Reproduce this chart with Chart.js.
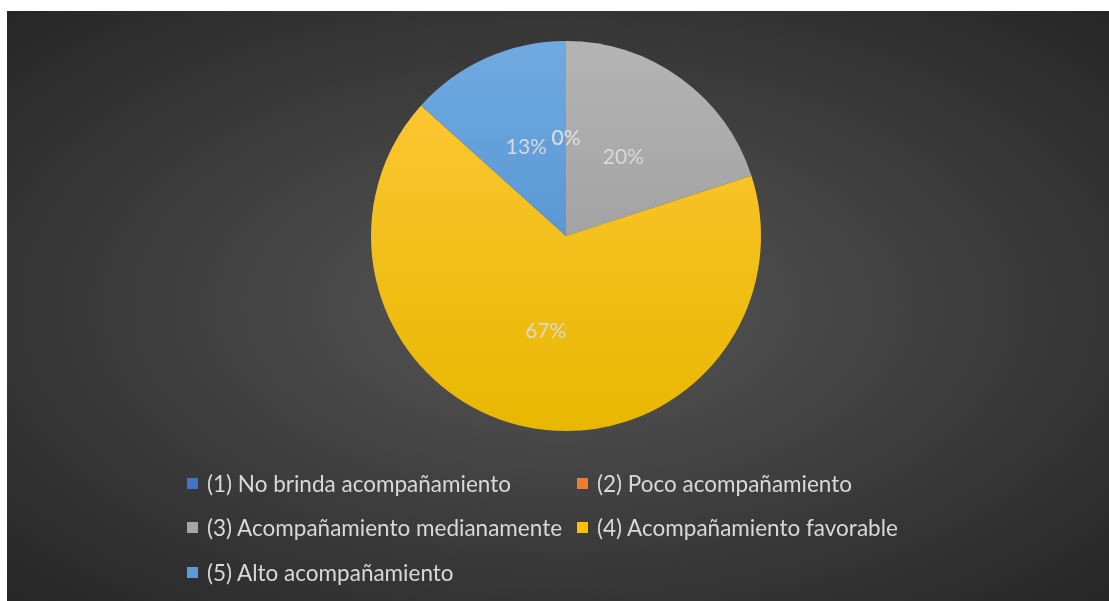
<!DOCTYPE html>
<html>
<head>
<meta charset="utf-8">
<script src="https://cdn.jsdelivr.net/npm/chart.js@4/dist/chart.umd.min.js"></script>
<style>
  body { margin: 0; background: #fff; }
  #wrap {
    position: absolute; left: 7px; top: 11px; width: 1102px; height: 590px;
    background: radial-gradient(ellipse at 50% 50%, #575757 0%, #3c3c3c 55%, #262626 100%);
  }
  #legend {
    position: absolute; left: 180px; top: 450px;
    display: grid; grid-template-columns: 390px 390px; row-gap: 0;
    font-family: Lato, "Open Sans", sans-serif; font-size: 22.5px; color: #d9d9d9;
  }
  .item { height: 44.5px; display: flex; align-items: center; white-space: nowrap; }
  .box { width: 11px; height: 11px; margin-right: 9px; flex: none; }
</style>
</head>
<body>
<div id="wrap">
  <canvas id="c"></canvas>
  <div id="legend"></div>
</div>
<script>
const categories = [
  "(1) No brinda acompañamiento",
  "(2) Poco acompañamiento",
  "(3) Acompañamiento medianamente",
  "(4) Acompañamiento favorable",
  "(5) Alto acompañamiento"
];
const responses = [0, 0, 3, 10, 2];

const legendColors = ["#4472C4", "#ED7D31", "#A5A5A5", "#FFC000", "#5B9BD5"];
const topColors = ["#5080D0", "#F08A40", "#B4B4B4", "#FFC93A", "#70AAE0"];
const bottomColors = ["#3A64B0", "#D86E20", "#929292", "#E8B700", "#4286CA"];

const total = responses.reduce((a, b) => a + b, 0);

const sliceFill = (ctx) => {
  const chart = ctx.chart;
  const area = chart.chartArea;
  if (!area) return legendColors[ctx.dataIndex];
  const g = chart.ctx.createLinearGradient(0, area.top, 0, area.bottom);
  g.addColorStop(0, topColors[ctx.dataIndex]);
  g.addColorStop(1, bottomColors[ctx.dataIndex]);
  return g;
};

const pctLabels = {
  id: 'pctLabels',
  afterDatasetsDraw(chart) {
    const ctx = chart.ctx;
    const meta = chart.getDatasetMeta(0);
    ctx.save();
    ctx.font = '21px Lato, "Open Sans", sans-serif';
    ctx.fillStyle = '#d9d9d9';
    ctx.textAlign = 'center';
    ctx.textBaseline = 'middle';
    meta.data.forEach((arc, i) => {
      const pos = arc.tooltipPosition();
      const pct = Math.round(responses[i] / total * 100) + '%';
      ctx.fillText(pct, pos.x, pos.y);
    });
    ctx.restore();
  }
};

new Chart(document.getElementById('c'), {
  type: 'pie',
  data: {
    labels: categories,
    datasets: [{
      data: responses,
      backgroundColor: sliceFill,
      borderWidth: 0
    }]
  },
  options: {
    responsive: true,
    maintainAspectRatio: false,
    animation: false,
    layout: { padding: { top: 30, bottom: 170, left: 16, right: 0 } },
    plugins: {
      legend: { display: false },
      tooltip: { enabled: false }
    }
  },
  plugins: [pctLabels]
});

const legend = document.getElementById('legend');
categories.forEach((name, i) => {
  const item = document.createElement('div');
  item.className = 'item';
  item.innerHTML = '<span class="box" style="background:' + legendColors[i] + '"></span><span>' + name + '</span>';
  legend.appendChild(item);
});
</script>
</body>
</html>
